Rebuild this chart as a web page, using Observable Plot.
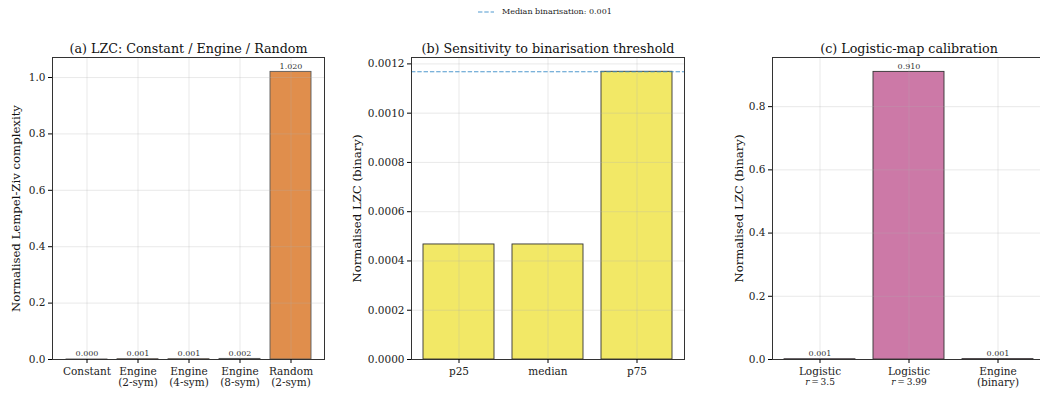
<!DOCTYPE html>
<html>
<head>
<meta charset="utf-8">
<script src="https://cdn.jsdelivr.net/npm/d3@7"></script>
<script src="https://cdn.jsdelivr.net/npm/@observablehq/plot@0.6"></script>
<style>
  html, body { margin: 0; padding: 0; background: #fff; overflow: hidden; }
  #wrap { position: relative; width: 1040px; height: 393px; overflow: hidden; font-family: "DejaVu Serif", serif; }
  .panel { position: absolute; top: 0; }
  .panel svg { max-width: none !important; }
  #legend { position: absolute; top: 7px; left: 477px; font-size: 8px; color: #222; display: flex; align-items: center; white-space: nowrap; }
</style>
</head>
<body>
<div id="wrap">
  <div id="legend"></div>
</div>
<script>
// ---- data ----
const aCategories = ["Constant", "Engine\n(2-sym)", "Engine\n(4-sym)", "Engine\n(8-sym)", "Random\n(2-sym)"];
const aValues = [0.0001, 0.00117, 0.0012, 0.0021, 1.020];
const bCategories = ["p25", "median", "p75"];
const bValues = [0.000467, 0.000467, 0.001168];
const cCategories = ["Logistic\nr = 3.5", "Logistic\nr = 3.99", "Engine\n(binary)"];
const cValues = [0.0008, 0.910, 0.00117];
const medianBinarisation = 0.001168;
const legendLabel = "Median binarisation: 0.001";
const aTicks = [0, 0.2, 0.4, 0.6, 0.8, 1.0];
const bTicks = [0, 0.0002, 0.0004, 0.0006, 0.0008, 0.0010, 0.0012];
const cTicks = [0, 0.2, 0.4, 0.6, 0.8];

const FONT = "DejaVu Serif";
const H = 393;
const RULE = "#3d8ec9";

function panel(o) {
  const data = o.cats.map((c, i) => ({c, v: o.vals[i]}));
  const marks = [
    Plot.barY(data, {x: "c", y: "v", fill: o.fill, stroke: o.stroke, strokeWidth: 0.9}),
    Plot.gridY(o.ticks, {stroke: "#b0b0b0", strokeOpacity: 0.35, strokeWidth: 0.8}),
    Plot.gridX(o.cats, {stroke: "#b0b0b0", strokeOpacity: 0.35, strokeWidth: 0.8}),
  ];
  if (o.rule != null) {
    marks.push(Plot.ruleY([o.rule], {stroke: RULE, strokeOpacity: 0.9, strokeWidth: 1.1, strokeDasharray: "4.4,1.9"}));
  }
  if (o.labels) {
    marks.push(Plot.text(data, {x: "c", y: "v", text: d => d3.format(".3f")(d.v), lineAnchor: "bottom", dy: -3, fontSize: 8, fill: "#333"}));
  }
  marks.push(
    Plot.frame({stroke: "#333", strokeWidth: 1}),
    Plot.axisY({ticks: o.ticks, tickFormat: d3.format(o.fmt), tickSize: 4, tickPadding: 3, fontSize: 10.5, fill: "#222"}),
    Plot.axisX({tickSize: 4, tickPadding: 3, fontSize: 10.5, lineHeight: 1.1, fill: "#222"}),
    Plot.text([o.title], {frameAnchor: "top", lineAnchor: "bottom", dy: -5, fontSize: 12.7, fill: "#111"}),
    Plot.text([o.ylabel], {frameAnchor: "left", textAnchor: "middle", lineAnchor: "middle", rotate: -90, dx: -o.ylabelOffset, fontSize: 11.7, fill: "#111"})
  );
  const svg = Plot.plot({
    width: o.width, height: H,
    marginLeft: o.ml, marginRight: o.mr, marginTop: 57, marginBottom: 34,
    style: {fontFamily: FONT, background: "transparent", overflow: "visible", maxWidth: "none"},
    x: {domain: o.cats, paddingInner: 0.2, paddingOuter: o.po, label: null},
    y: {domain: [0, o.yMax], label: null},
    marks
  });
  const div = document.createElement("div");
  div.className = "panel";
  div.style.left = o.left + "px";
  div.style.width = o.width + "px";
  div.style.height = H + "px";
  div.appendChild(svg);
  document.getElementById("wrap").appendChild(div);
  return svg;
}

panel({cats: aCategories, vals: aValues, fill: "#E08E4C", stroke: "#5a5a5a", yMax: 1.071, ticks: aTicks, fmt: ".1f",
  title: "(a) LZC: Constant / Engine / Random", ylabel: "Normalised Lempel-Ziv complexity", ylabelOffset: 36,
  labels: true, left: 0, width: 340, ml: 52, mr: 16, po: 0.24});

panel({cats: bCategories, vals: bValues, fill: "#F2E866", stroke: "#333", yMax: 0.001226, ticks: bTicks, fmt: ".4f",
  title: "(b) Sensitivity to binarisation threshold", ylabel: "Normalised LZC (binary)", ylabelOffset: 54,
  labels: false, rule: medianBinarisation, left: 340, width: 360, ml: 71, mr: 16, po: 0.12});

const svgC = panel({cats: cCategories, vals: cValues, fill: "#CC79A7", stroke: "#333", yMax: 0.9555, ticks: cTicks, fmt: ".1f",
  title: "(c) Logistic-map calibration", ylabel: "Normalised LZC (binary)", ylabelOffset: 33,
  labels: true, left: 700, width: 345, ml: 72, mr: 0, po: 0.12});

// italic math-style r in panel (c) tick labels
svgC.querySelectorAll("tspan").forEach(t => {
  const s = t.textContent;
  if (s.startsWith("r = ")) {
    t.textContent = "";
    t.setAttribute("font-size", "9");
    const r = document.createElementNS("http://www.w3.org/2000/svg", "tspan");
    r.setAttribute("font-style", "italic");
    r.textContent = "r";
    const rest = document.createElementNS("http://www.w3.org/2000/svg", "tspan");
    rest.textContent = "\u2009=\u2009" + s.slice(4);
    t.appendChild(r); t.appendChild(rest);
  }
});

// legend
const lg = document.getElementById("legend");
lg.innerHTML = `<svg width="22" height="8"><line x1="1" y1="4" x2="17" y2="4" stroke="${RULE}" stroke-opacity="0.9" stroke-width="1.1" stroke-dasharray="4.4,1.9"/></svg><span style="margin-left:3px">${legendLabel}</span>`;
</script>
</body>
</html>
